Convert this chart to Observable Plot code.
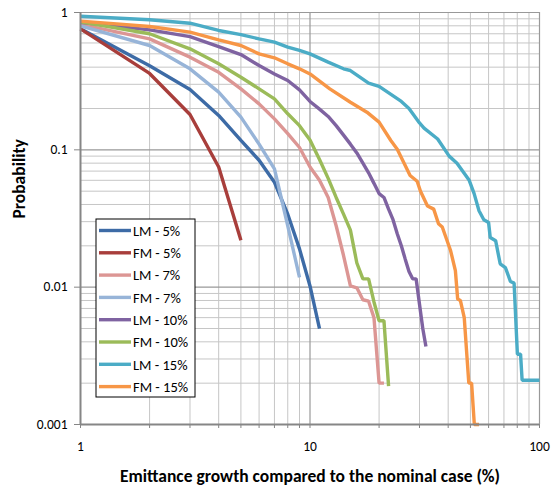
<!DOCTYPE html>
<html>
<head>
<meta charset="utf-8">
<script src="https://cdn.jsdelivr.net/npm/d3@7"></script>
<script src="https://cdn.jsdelivr.net/npm/@observablehq/plot@0.6"></script>
<style>
  html, body { margin: 0; padding: 0; background: #fff; }
  svg { font-family: Carlito, Lato, "Open Sans", sans-serif; }
</style>
</head>
<body>
<div id="chart"></div>
<script>
// ---- data ----
const seriesNames = ["LM - 5%", "FM - 5%", "LM - 7%", "FM - 7%", "LM - 10%", "FM - 10%", "LM - 15%", "FM - 15%"];
const seriesColors = ["#3d6ba6", "#a83e3b", "#dc9694", "#97b4d8", "#7f63a1", "#9bbb59", "#4bacc6", "#f79646"];

const lm5X = [1, 2, 3, 4, 5, 6, 7, 8, 9, 10, 11];
const lm5Y = [0.76, 0.41, 0.275, 0.178, 0.117, 0.084, 0.058, 0.034, 0.019, 0.0102, 0.005];

const fm5X = [1, 2, 3, 4, 5];
const fm5Y = [0.76, 0.36, 0.181, 0.075, 0.022];

const lm7X = [1, 2, 3, 4, 5, 6, 7, 8, 9, 10, 11, 12, 13, 14, 15, 16, 17, 18, 19, 20, 21];
const lm7Y = [0.82, 0.643, 0.473, 0.367, 0.278, 0.216, 0.168, 0.131, 0.104, 0.075, 0.06, 0.045, 0.028, 0.017, 0.0102, 0.0099, 0.0081, 0.0079, 0.006, 0.002, 0.002];

const fm7X = [1, 2, 3, 4, 5, 6, 7, 8, 9];
const fm7Y = [0.80, 0.575, 0.389, 0.263, 0.173, 0.11, 0.0727, 0.028, 0.0118];

const lm10X = [1, 2, 3, 4, 5, 6, 7, 8, 9, 10, 11, 12, 13, 14, 15, 16, 17, 18, 19, 20, 21, 22, 23, 24, 25, 26, 27, 28, 29, 30, 31, 32];
const lm10Y = [0.85, 0.748, 0.668, 0.565, 0.494, 0.411, 0.357, 0.32, 0.273, 0.225, 0.198, 0.175, 0.15, 0.128, 0.11, 0.095, 0.08, 0.068, 0.057, 0.048, 0.045, 0.037, 0.031, 0.0245, 0.02, 0.016, 0.013, 0.0115, 0.0115, 0.0075, 0.005, 0.0037];

const fm10X = [1, 2, 3, 4, 5, 6, 7, 8, 9, 10, 11, 12, 13, 14, 15, 16, 17, 18, 19, 20, 21, 22];
const fm10Y = [0.855, 0.70, 0.544, 0.423, 0.338, 0.278, 0.235, 0.183, 0.15, 0.118, 0.085, 0.062, 0.045, 0.034, 0.026, 0.015, 0.0115, 0.0115, 0.0078, 0.0057, 0.0057, 0.0019];

const lm15X = [1, 2, 3, 4, 5, 6, 7, 8, 9, 10, 12, 14, 15, 18, 20, 25, 27, 30, 31.4, 36, 40.4, 43.7, 49.4, 51.9, 54.5, 57.2, 60, 61, 64.4, 67.4, 71, 74.7, 77.5, 80.1, 82.7, 84, 100];
const lm15Y = [0.94, 0.885, 0.836, 0.74, 0.69, 0.643, 0.608, 0.559, 0.529, 0.50, 0.435, 0.389, 0.378, 0.306, 0.29, 0.225, 0.2, 0.157, 0.144, 0.12, 0.09, 0.08, 0.06, 0.048, 0.036, 0.031, 0.0296, 0.023, 0.0218, 0.0148, 0.0139, 0.011, 0.0107, 0.00325, 0.00325, 0.0021, 0.0021];

const fm15X = [1, 2, 3, 4, 5, 6, 7, 8, 9, 10, 12.2, 15, 17.7, 20, 22.5, 24, 27.3, 29.3, 30.3, 32.5, 34.6, 36.3, 37.7, 41, 43, 44, 45.2, 47, 49.2, 50.6, 52, 54.5];
const fm15Y = [0.865, 0.79, 0.72, 0.632, 0.575, 0.50, 0.468, 0.423, 0.389, 0.357, 0.278, 0.222, 0.188, 0.159, 0.117, 0.101, 0.065, 0.059, 0.05, 0.039, 0.037, 0.029, 0.0274, 0.0184, 0.0132, 0.0082, 0.008, 0.006, 0.002, 0.002, 0.001, 0.001];

const xTickLabels = [1, 10, 100];
const yTickLabels = [1, 0.1, 0.01, 0.001];
const xTitle = "Emittance growth compared to the nominal case (%)";
const yTitle = "Probability";

// ---- build table ----
const xsAll = [lm5X, fm5X, lm7X, fm7X, lm10X, fm10X, lm15X, fm15X];
const ysAll = [lm5Y, fm5Y, lm7Y, fm7Y, lm10Y, fm10Y, lm15Y, fm15Y];
const rows = [];
seriesNames.forEach((name, i) => {
  xsAll[i].forEach((x, j) => rows.push({series: name, x, y: ysAll[i][j]}));
});

const minorX = [];
for (const d of [1, 10]) for (let k = 2; k <= 9; k++) minorX.push(d * k);
const minorY = [];
for (const d of [0.001, 0.01, 0.1]) for (let k = 2; k <= 9; k++) minorY.push(+(d * k).toPrecision(3));
const allXTicks = [1, ...minorX.slice(0, 8), 10, ...minorX.slice(8), 100];

const font = "Carlito, Lato, 'Open Sans', sans-serif";

const chart = Plot.plot({
  width: 552,
  height: 494,
  marginLeft: 80,
  marginRight: 13,
  marginTop: 12,
  marginBottom: 70,
  style: {fontFamily: font, background: "#fff", overflow: "visible"},
  x: {type: "log", domain: [1, 100], axis: null},
  y: {type: "log", domain: [0.001, 1], axis: null},
  color: {domain: seriesNames, range: seriesColors},
  marks: [
    Plot.ruleX(minorX, {stroke: "#c6c6c6", strokeWidth: 1}),
    Plot.ruleY(minorY, {stroke: "#c6c6c6", strokeWidth: 1}),
    Plot.ruleX([10, 100], {stroke: "#999", strokeWidth: 1.2}),
    Plot.ruleY([0.01, 0.1, 1], {stroke: "#999", strokeWidth: 1.2}),
    Plot.axisX(allXTicks, {tickSize: 4, tickFormat: () => "", stroke: "#868686", label: null}),
    Plot.axisY([1, 0.1, 0.01, 0.001], {tickSize: 6, tickFormat: () => "", stroke: "#868686", label: null}),
    Plot.line(rows, {x: "x", y: "y", z: "series", stroke: "series", strokeWidth: 3.4, strokeLinejoin: "miter", strokeLinecap: "butt"}),
    Plot.ruleX([1], {stroke: "#868686", strokeWidth: 2}),
    Plot.ruleY([0.001], {stroke: "#868686", strokeWidth: 2}),
    Plot.text(xTickLabels, {x: d => d, frameAnchor: "bottom", dy: 26, text: d => String(d), fontSize: 13.5, fill: "#000"}),
    Plot.text(yTickLabels, {y: d => d, frameAnchor: "left", dx: -13, textAnchor: "end", text: d => String(d), fontSize: 13.5, fill: "#000"}),
    Plot.text([xTitle], {frameAnchor: "bottom", dy: 57, text: d => d, fontWeight: "bold", fontSize: 17.5, fill: "#000"}),
    Plot.text([yTitle], {frameAnchor: "left", dx: -61, rotate: -90, text: d => d, fontWeight: "bold", fontSize: 17.5, fill: "#000"})
  ]
});

// ---- legend ----
const svg = d3.select(chart);
const lg = svg.append("g").attr("transform", "translate(96,219)");
lg.append("rect").attr("width", 99).attr("height", 178).attr("fill", "#fff").attr("stroke", "#000").attr("stroke-width", 1);
seriesNames.forEach((name, i) => {
  const cy = 11.5 + i * 22.3;
  lg.append("line").attr("x1", 3).attr("x2", 35).attr("y1", cy).attr("y2", cy)
    .attr("stroke", seriesColors[i]).attr("stroke-width", 3.4);
  lg.append("text").attr("x", 37).attr("y", cy).attr("dy", "0.36em")
    .attr("text-anchor", "start")
    .attr("font-size", 14.5).attr("font-family", font).attr("fill", "#000").text(name);
});

document.getElementById("chart").appendChild(chart);
</script>
</body>
</html>
